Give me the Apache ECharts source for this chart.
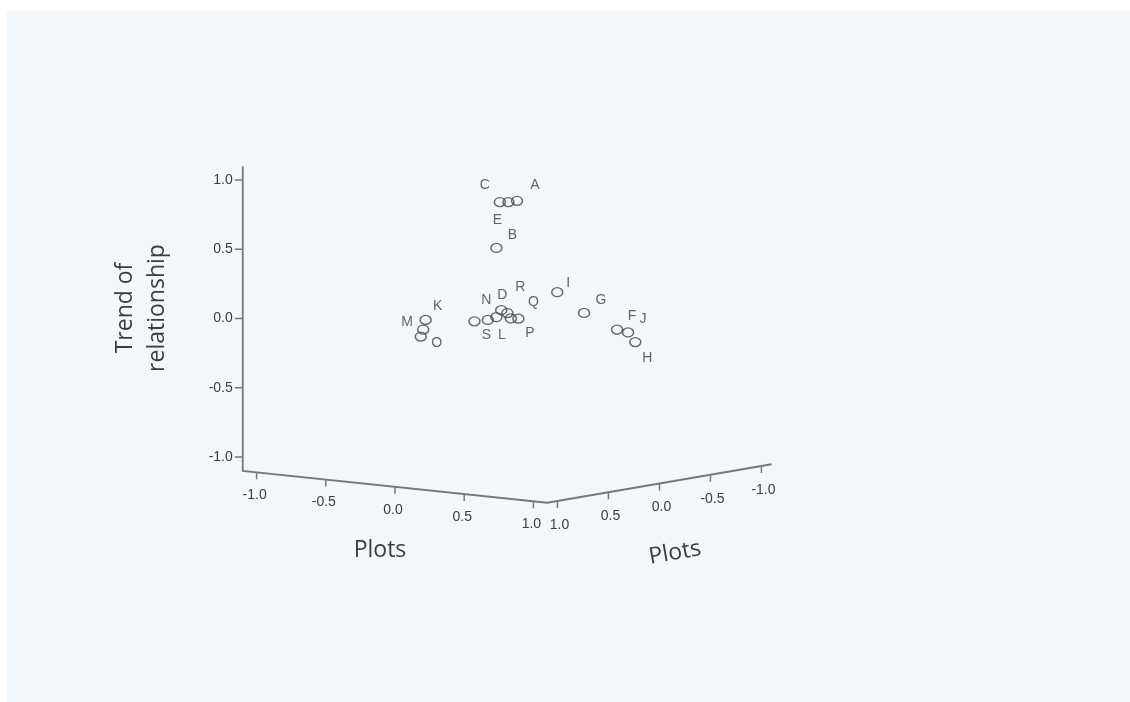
<!DOCTYPE html>
<html><head><meta charset="utf-8">
<script src="https://cdn.jsdelivr.net/npm/echarts@6/dist/echarts.min.js"></script>
<style>html,body{margin:0;padding:0;background:#fff;overflow:hidden;}#c{width:1130px;height:702px;}</style>
</head><body><div id="c"></div>
<script>
// ---- data ----
const pointNames = ['A','B','C','D','E','F','G','H','I','J','K','L','M','N','O','P','Q','R','S'];
const plotsX = [0.13, 0.04, 0.05, 0.06, 0.09, 0.58, 0.43, 0.66, 0.31, 0.63, -0.28, 0.00, -0.29, 0.04, -0.30, 0.10, 0.14, 0.09, -0.06];
const plotsZ = [0.08, 0.16, 0.14, 0.14, 0.11, -0.29, -0.17, -0.36, -0.07, -0.33, 0.42, 0.19, 0.43, 0.16, 0.44, 0.10, 0.08, 0.12, 0.24];
const trend  = [0.85, 0.51, 0.84, 0.06, 0.84, -0.08, 0.04, -0.17, 0.19, -0.10, -0.01, -0.01, -0.08, 0.01, -0.13, 0.00, 0.00, 0.04, -0.02];
const axisTicks = [-1.0, -0.5, 0.0, 0.5, 1.0];
const tickLabels = ['-1.0', '-0.5', '0.0', '0.5', '1.0'];
const axisMin = -1.1, axisMax = 1.1;
const yTitle = 'Trend of\nrelationship';
const xTitle = 'Plots';
const zTitle = 'Plots';

// ---- styling / projection (not data) ----
const PROJ = {ox: 507.2, oy: 315.2, xx: 138.4, xy: 14.5, zx: -102, zy: 17.5, yy: -138.5};
function project(x, y, z) {
  return [PROJ.ox + PROJ.xx * x + PROJ.zx * z, PROJ.oy + PROJ.xy * x + PROJ.zy * z + PROJ.yy * y];
}
const labelOffsets = {
  A: [18, -16], B: [16, -13], C: [-15, -17], D: [1, -15], E: [-11, 18], F: [15, -13], G: [17, -13],
  H: [12, 16], I: [11, -9], J: [15, -13], K: [12, -14], L: [14, 15], M: [-16, -7], N: [-10, -17],
  O: [16, 7], P: [19, 15], Q: [15, -16], R: [13, -26], S: [12, 14]
};
const axisColor = '#777777';
const textColor = '#3c3c3c';
const tickFont = '14px "Liberation Sans", Arial, sans-serif';
const titleFont = '23px "Open Sans", sans-serif';

const chart = echarts.init(document.getElementById('c'), null, {renderer: 'canvas'});
chart.setOption({
  animation: false,
  backgroundColor: '#f4f7fa',
  graphic: [
    {type: 'rect', shape: {x: 0, y: 0, width: 1130, height: 11}, style: {fill: '#ffffff'}, z: 100},
    {type: 'rect', shape: {x: 0, y: 0, width: 7, height: 702}, style: {fill: '#ffffff'}, z: 100}
  ],
  grid: {left: 0, top: 0, right: 0, bottom: 0},
  xAxis: {type: 'value', min: 0, max: 1130, show: false},
  yAxis: {type: 'value', min: 0, max: 702, inverse: true, show: false},
  series: [
    {
      type: 'custom',
      coordinateSystem: 'cartesian2d',
      silent: true,
      data: [[0, 0]],
      renderItem: function (params, api) {
        const c = p => api.coord(p);
        const lo = axisMin, hi = axisMax;
        const children = [];
        const path = [project(lo, hi, hi), project(lo, lo, hi), project(hi, lo, hi), project(hi, lo, lo)].map(c);
        children.push({type: 'polyline', shape: {points: path}, style: {stroke: axisColor, lineWidth: 1.8, fill: null}});
        axisTicks.forEach(function (t, i) {
          const a = c(project(lo, t, hi));
          children.push({type: 'line', shape: {x1: a[0], y1: a[1], x2: a[0] - 8, y2: a[1]}, style: {stroke: axisColor, lineWidth: 1.5}});
          children.push({type: 'text', x: a[0] - 10, y: a[1], style: {text: tickLabels[i], align: 'right', verticalAlign: 'middle', font: tickFont, fill: textColor}});
          const b = c(project(t, lo, hi));
          children.push({type: 'line', shape: {x1: b[0], y1: b[1], x2: b[0], y2: b[1] + 7}, style: {stroke: axisColor, lineWidth: 1.5}});
          children.push({type: 'text', x: b[0] - 2, y: b[1] + 23, style: {text: tickLabels[i], align: 'center', verticalAlign: 'middle', font: tickFont, fill: textColor}});
          const d = c(project(hi, lo, t));
          children.push({type: 'line', shape: {x1: d[0], y1: d[1], x2: d[0], y2: d[1] + 7}, style: {stroke: axisColor, lineWidth: 1.5}});
          children.push({type: 'text', x: d[0] + 2, y: d[1] + 24, style: {text: tickLabels[i], align: 'center', verticalAlign: 'middle', font: tickFont, fill: textColor}});
        });
        children.push({type: 'text', x: 141, y: 308, rotation: Math.PI / 2, style: {text: yTitle, align: 'center', verticalAlign: 'middle', font: titleFont, fill: textColor, lineHeight: 32}});
        children.push({type: 'text', x: 380, y: 550, style: {text: xTitle, align: 'center', verticalAlign: 'middle', font: titleFont, fill: textColor}});
        children.push({type: 'text', x: 675, y: 553, rotation: 10 * Math.PI / 180, style: {text: zTitle, align: 'center', verticalAlign: 'middle', font: titleFont, fill: textColor}});
        return {type: 'group', children: children};
      }
    },
    {
      type: 'scatter',
      symbol: 'circle',
      symbolSize: [11, 9],
      itemStyle: {color: 'rgba(0,0,0,0)', borderColor: '#444444', borderWidth: 1.4},
      label: {show: true, formatter: '{b}', position: 'inside', color: textColor, fontSize: 14, fontFamily: '"Liberation Sans", Arial, sans-serif'},
      data: pointNames.map(function (n, i) {
        return {name: n, value: project(plotsX[i], trend[i], plotsZ[i]), label: {offset: labelOffsets[n]}};
      })
    }
  ]
});
</script>
</body></html>
